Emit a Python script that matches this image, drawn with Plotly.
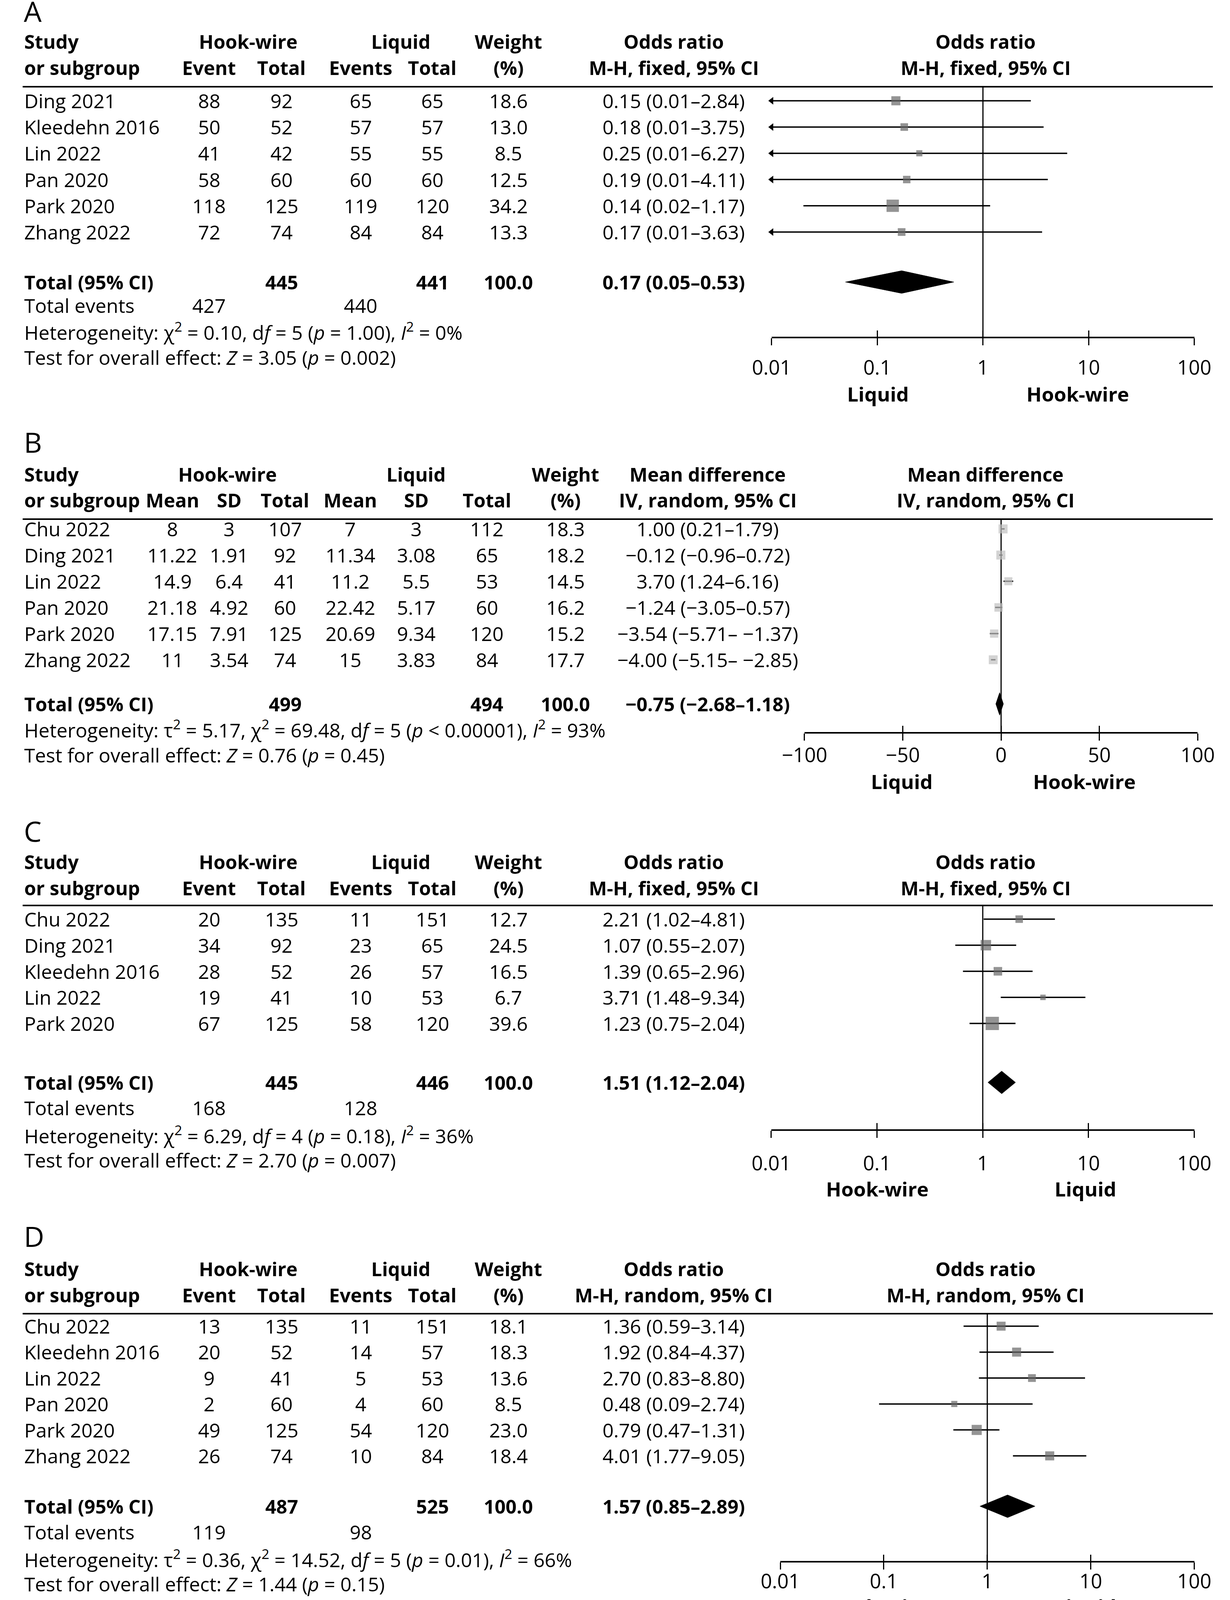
import plotly.graph_objects as go

W, H = 3148, 6913
FONT = "Open Sans"
FS = 50        # regular text
FSB = 49       # bold text
LABEL_FS = 72

# ============================ DATA ============================
# ---- Panel A (odds ratio, M-H fixed) ----
A_study = ["Ding 2021", "Kleedehn 2016", "Lin 2022", "Pan 2020", "Park 2020", "Zhang 2022"]
A_hw_event = [88, 50, 41, 58, 118, 72]
A_hw_total = [92, 52, 42, 60, 125, 74]
A_lq_event = [65, 57, 55, 60, 119, 84]
A_lq_total = [65, 57, 55, 60, 120, 84]
A_weight = [18.6, 13.0, 8.5, 12.5, 34.2, 13.3]
A_est = [0.15, 0.18, 0.25, 0.19, 0.14, 0.17]
A_lo = [0.01, 0.01, 0.01, 0.01, 0.02, 0.01]
A_hi = [2.84, 3.75, 6.27, 4.11, 1.17, 3.63]
A_ci_text = ["0.15 (0.01–2.84)", "0.18 (0.01–3.75)", "0.25 (0.01–6.27)",
             "0.19 (0.01–4.11)", "0.14 (0.02–1.17)", "0.17 (0.01–3.63)"]
A_totals = [445, 441]
A_pooled = [0.17, 0.05, 0.53]
A_pooled_text = "0.17 (0.05–0.53)"
A_total_events = [427, 440]
A_het = "Heterogeneity: χ<sup>2</sup> = 0.10, d<i>f</i> = 5 (<i>p</i> = 1.00), <i>I</i><sup>2</sup> = 0%"
A_test = "Test for overall effect: <i>Z</i> = 3.05 (<i>p</i> = 0.002)"
A_favours = ["Liquid", "Hook-wire"]

# ---- Panel B (mean difference, IV random) ----
B_study = ["Chu 2022", "Ding 2021", "Lin 2022", "Pan 2020", "Park 2020", "Zhang 2022"]
B_hw_mean = [8, 11.22, 14.9, 21.18, 17.15, 11]
B_hw_sd = [3, 1.91, 6.4, 4.92, 7.91, 3.54]
B_hw_total = [107, 92, 41, 60, 125, 74]
B_lq_mean = [7, 11.34, 11.2, 22.42, 20.69, 15]
B_lq_sd = [3, 3.08, 5.5, 5.17, 9.34, 3.83]
B_lq_total = [112, 65, 53, 60, 120, 84]
B_weight = [18.3, 18.2, 14.5, 16.2, 15.2, 17.7]
B_est = [1.00, -0.12, 3.70, -1.24, -3.54, -4.00]
B_lo = [0.21, -0.96, 1.24, -3.05, -5.71, -5.15]
B_hi = [1.79, 0.72, 6.16, 0.57, -1.37, -2.85]
B_ci_text = ["1.00 (0.21–1.79)", "−0.12 (−0.96–0.72)", "3.70 (1.24–6.16)",
             "−1.24 (−3.05–0.57)", "−3.54 (−5.71– −1.37)", "−4.00 (−5.15– −2.85)"]
B_totals = [499, 494]
B_pooled = [-0.75, -2.68, 1.18]
B_pooled_text = "−0.75 (−2.68–1.18)"
B_het = ("Heterogeneity: τ<sup>2</sup> = 5.17, χ<sup>2</sup> = 69.48, d<i>f</i> = 5 "
         "(<i>p</i> &lt; 0.00001), <i>I</i><sup>2</sup> = 93%")
B_test = "Test for overall effect: <i>Z</i> = 0.76 (<i>p</i> = 0.45)"
B_favours = ["Liquid", "Hook-wire"]

# ---- Panel C (odds ratio, M-H fixed) ----
C_study = ["Chu 2022", "Ding 2021", "Kleedehn 2016", "Lin 2022", "Park 2020"]
C_hw_event = [20, 34, 28, 19, 67]
C_hw_total = [135, 92, 52, 41, 125]
C_lq_event = [11, 23, 26, 10, 58]
C_lq_total = [151, 65, 57, 53, 120]
C_weight = [12.7, 24.5, 16.5, 6.7, 39.6]
C_est = [2.21, 1.07, 1.39, 3.71, 1.23]
C_lo = [1.02, 0.55, 0.65, 1.48, 0.75]
C_hi = [4.81, 2.07, 2.96, 9.34, 2.04]
C_ci_text = ["2.21 (1.02–4.81)", "1.07 (0.55–2.07)", "1.39 (0.65–2.96)",
             "3.71 (1.48–9.34)", "1.23 (0.75–2.04)"]
C_totals = [445, 446]
C_pooled = [1.51, 1.12, 2.04]
C_pooled_text = "1.51 (1.12–2.04)"
C_total_events = [168, 128]
C_het = "Heterogeneity: χ<sup>2</sup> = 6.29, d<i>f</i> = 4 (<i>p</i> = 0.18), <i>I</i><sup>2</sup> = 36%"
C_test = "Test for overall effect: <i>Z</i> = 2.70 (<i>p</i> = 0.007)"
C_favours = ["Hook-wire", "Liquid"]

# ---- Panel D (odds ratio, M-H random) ----
D_study = ["Chu 2022", "Kleedehn 2016", "Lin 2022", "Pan 2020", "Park 2020", "Zhang 2022"]
D_hw_event = [13, 20, 9, 2, 49, 26]
D_hw_total = [135, 52, 41, 60, 125, 74]
D_lq_event = [11, 14, 5, 4, 54, 10]
D_lq_total = [151, 57, 53, 60, 120, 84]
D_weight = [18.1, 18.3, 13.6, 8.5, 23.0, 18.4]
D_est = [1.36, 1.92, 2.70, 0.48, 0.79, 4.01]
D_lo = [0.59, 0.84, 0.83, 0.09, 0.47, 1.77]
D_hi = [3.14, 4.37, 8.80, 2.74, 1.31, 9.05]
D_ci_text = ["1.36 (0.59–3.14)", "1.92 (0.84–4.37)", "2.70 (0.83–8.80)",
             "0.48 (0.09–2.74)", "0.79 (0.47–1.31)", "4.01 (1.77–9.05)"]
D_totals = [487, 525]
D_pooled = [1.57, 0.85, 2.89]
D_pooled_text = "1.57 (0.85–2.89)"
D_total_events = [119, 98]
D_het = ("Heterogeneity: τ<sup>2</sup> = 0.36, χ<sup>2</sup> = 14.52, d<i>f</i> = 5 "
         "(<i>p</i> = 0.01), <i>I</i><sup>2</sup> = 66%")
D_test = "Test for overall effect: <i>Z</i> = 1.44 (<i>p</i> = 0.15)"
D_favours = ["Hook-wire", "Liquid"]

# ---- Panel E (odds ratio, M-H fixed) ----
E_study = ["Chu 2022", "Kleedehn 2016", "Lin 2022", "Pan 2020", "Park 2020", "Zhang 2022"]
E_hw_event = [7, 6, 12, 17, 27, 18]
E_hw_total = [135, 52, 41, 60, 125, 74]
E_lq_event = [0, 2, 7, 3, 7, 11]
E_lq_total = [151, 57, 53, 60, 120, 84]
E_weight = [2.0, 7.7, 19.6, 9.8, 25.5, 35.4]
E_est = [17.68, 3.59, 2.72, 7.51, 4.45, 2.13]
E_lo = [1.00, 0.69, 0.96, 2.07, 1.86, 0.93]
E_hi = [312.64, 18.63, 7.71, 27.28, 10.66, 4.88]
E_ci_text = ["17.68 (1.00–312.64)", "3.59 (0.69–18.63)", "2.72 (0.96–7.71)",
             "7.51 (2.07–27.28)", "4.45 (1.86–10.66)", "2.13 90.93–4.88)"]
E_totals = [487, 525]
E_pooled = [3.79, 2.43, 5.92]
E_pooled_text = "3.79 (2.43–5.92)"
E_total_events = [87, 30]
E_het = "Heterogeneity: χ<sup>2</sup> = 4.56, d<i>f</i> = 5 (<i>p</i> = 0.47), <i>I</i><sup>2</sup> = 0%"
E_test = "Test for overall effect: <i>Z</i> = 5.86 (<i>p</i> &lt; 0.00001)"
E_favours = ["Hook-wire", "Liquid"]

# ---- Panel F (mean difference, IV fixed) ----
F_study = ["Chu 2022", "Lin 2022", "Park 2020"]
F_hw_mean = [114, 79.9, 101.97]
F_hw_sd = [92, 40.1, 27.11]
F_hw_total = [104, 41, 125]
F_lq_mean = [95, 84.1, 102.75]
F_lq_sd = [61.5, 42.2, 52.11]
F_lq_total = [112, 53, 120]
F_weight = [15.1, 23.9, 61.0]
F_est = [19.00, -4.20, -0.78]
F_lo = [-2.03, -20.93, -11.24]
F_hi = [40.03, 12.53, 9.68]
F_ci_text = ["19.00 (−2.03–40.03)", "−4.20 (−20.93–12.53)", "−0.78 (−11.24–9.68)"]
F_totals = [270, 285]
F_pooled = [1.39, -6.78, 9.56]
F_pooled_text = "1.39 (−6.78–9.56)"
F_het = "Heterogeneity: χ<sup>2</sup> = 3.29, d<i>f</i> = 2 (<i>p</i> = 0.19), <i>I</i><sup>2</sup> = 39%"
F_test = "Test for overall effect: <i>Z</i> = 0.33 (<i>p</i> = 0.74)"
F_favours = ["Hook-wire", "Liquid"]

# ---- Panel G (mean difference, IV fixed) ----
G_study = ["Chu 2022", "Lin 2022"]
G_hw_mean = [6, 7.9]
G_hw_sd = [3, 3.6]
G_hw_total = [107, 41]
G_lq_mean = [5, 7.8]
G_lq_sd = [2, 2]
G_lq_total = [112, 53]
G_weight = [76.6, 23.4]
G_est = [1.00, 0.10]
G_lo = [0.32, -1.13]
G_hi = [1.68, 1.33]
G_ci_text = ["1.00 (0.32–1.68)", "0.10 (−1.13–1.33)"]
G_totals = [148, 165]
G_pooled = [0.79, 0.20, 1.38]
G_pooled_text = "0.79 (0.20–1.38)"
G_het = "Heterogeneity: χ<sup>2</sup> = 1.58, d<i>f</i> = 1 (<i>p</i> = 0.21), <i>I</i><sup>2</sup> = 37%"
G_test = "Test for overall effect: <i>Z</i> = 2.61 (<i>p</i> = 0.009)"
G_favours = ["Hook-wire", "Liquid"]

# Axis tick labels
OR_tickvals = [0.01, 0.1, 1, 10, 100]
OR_ticktext = ["0.01", "0.1", "1", "10", "100"]
MD_tickvals = [-100, -50, 0, 50, 100]
MD_ticktext = ["−100", "−50", "0", "50", "100"]

# ============================ LAYOUT SPECS (pixels) ============================
OR_COLS = dict(cols=[493, 685, 894, 1084, 1285], text=1722, group=[596, 1000], plot_hdr=2547)
MD_COLS = dict(cols=[396, 546, 694, 867, 1041, 1228, 1436], text=1812, group=[542, 1041], plot_hdr=2547)

PANELS = [
    dict(label="A", kind="or", measure="Odds ratio", method="M-H, fixed, 95% CI",
         study=A_study, cells=[A_hw_event, A_hw_total, A_lq_event, A_lq_total], weight=A_weight,
         est=A_est, lo=A_lo, hi=A_hi, ci_text=A_ci_text, totals=A_totals, pooled=A_pooled,
         pooled_text=A_pooled_text, total_events=A_total_events, het=A_het, test=A_test, favours=A_favours,
         top=0, bottom=1060, lab=28, h1=106, h2=173, line=222, row0=258, step=67.2, total=722,
         events=782, hety=848, testy=915, axis=864, gap=14, side=1008, x0=1981, x1=3099, side_x=(2262, 2791)),
    dict(label="B", kind="md", measure="Mean difference", method="IV, random, 95% CI",
         study=B_study, cells=[B_hw_mean, B_hw_sd, B_hw_total, B_lq_mean, B_lq_sd, B_lq_total], weight=B_weight,
         est=B_est, lo=B_lo, hi=B_hi, ci_text=B_ci_text, totals=B_totals, pooled=B_pooled,
         pooled_text=B_pooled_text, total_events=None, het=B_het, test=B_test, favours=B_favours,
         top=1060, bottom=2075, lab=1131, h1=1214, h2=1280, line=1329, row0=1354, step=67.0, total=1802,
         events=None, hety=1866, testy=1933, axis=1876, gap=-6, side=2000, x0=2068, x1=3108, side_x=(2325, 2808)),
    dict(label="C", kind="or", measure="Odds ratio", method="M-H, fixed, 95% CI",
         study=C_study, cells=[C_hw_event, C_hw_total, C_lq_event, C_lq_total], weight=C_weight,
         est=C_est, lo=C_lo, hi=C_hi, ci_text=C_ci_text, totals=C_totals, pooled=C_pooled,
         pooled_text=C_pooled_text, total_events=C_total_events, het=C_het, test=C_test, favours=C_favours,
         top=2075, bottom=3110, lab=2127, h1=2206, h2=2273, line=2318, row0=2353, step=66.75, total=2771,
         events=2836, hety=2905, testy=2970, axis=2893, gap=22, side=3043, x0=1980, x1=3099, side_x=(2261, 2811)),
    dict(label="D", kind="or", measure="Odds ratio", method="M-H, random, 95% CI",
         study=D_study, cells=[D_hw_event, D_hw_total, D_lq_event, D_lq_total], weight=D_weight,
         est=D_est, lo=D_lo, hi=D_hi, ci_text=D_ci_text, totals=D_totals, pooled=D_pooled,
         pooled_text=D_pooled_text, total_events=D_total_events, het=D_het, test=D_test, favours=D_favours,
         top=3110, bottom=4200, lab=3164, h1=3248, h2=3315, line=3363, row0=3395, step=66.4, total=3856,
         events=3922, hety=3990, testy=4055, axis=3998, gap=-13, side=4112, x0=2004, x1=3099, side_x=(2261, 2811)),
    dict(label="E", kind="or", measure="Odds ratio", method="M-H, fixed, 95% CI",
         study=E_study, cells=[E_hw_event, E_hw_total, E_lq_event, E_lq_total], weight=E_weight,
         est=E_est, lo=E_lo, hi=E_hi, ci_text=E_ci_text, totals=E_totals, pooled=E_pooled,
         pooled_text=E_pooled_text, total_events=E_total_events, het=E_het, test=E_test, favours=E_favours,
         top=4200, bottom=5320, lab=4252, h1=4342, h2=4407, line=4457, row0=4487, step=66.8, total=4955,
         events=5021, hety=5089, testy=5156, axis=5089, gap=0, side=5216, x0=1988, x1=3095, side_x=(2261, 2811)),
    dict(label="F", kind="md", measure="Mean difference", method="IV, fixed, 95% CI",
         study=F_study, cells=[F_hw_mean, F_hw_sd, F_hw_total, F_lq_mean, F_lq_sd, F_lq_total], weight=F_weight,
         est=F_est, lo=F_lo, hi=F_hi, ci_text=F_ci_text, totals=F_totals, pooled=F_pooled,
         pooled_text=F_pooled_text, total_events=None, het=F_het, test=F_test, favours=F_favours,
         top=5320, bottom=6200, lab=5403, h1=5486, h2=5551, line=5601, row0=5626, step=65.5, total=5874,
         events=None, hety=5939, testy=6006, axis=5935, gap=10, side=6074, x0=2105, x1=3107, side_x=(2325, 2833)),
    dict(label="G", kind="md", measure="Mean difference", method="IV, fixed, 95% CI",
         study=G_study, cells=[G_hw_mean, G_hw_sd, G_hw_total, G_lq_mean, G_lq_sd, G_lq_total], weight=G_weight,
         est=G_est, lo=G_lo, hi=G_hi, ci_text=G_ci_text, totals=G_totals, pooled=G_pooled,
         pooled_text=G_pooled_text, total_events=None, het=G_het, test=G_test, favours=G_favours,
         top=6200, bottom=6913, lab=6251, h1=6334, h2=6401, line=6449, row0=6474, step=65.0, total=6657,
         events=None, hety=6724, testy=6789, axis=6746, gap=7, side=6880, x0=2029, x1=3104, side_x=(2325, 2833)),
]

OR_SQ = "#666666"
MD_SQ = "#c0c0c0"


def fmt(v):
    return str(v).replace("-", "−")


fig = go.Figure()
annotations = []
shapes = []
layout_axes = {}


def add_text(s, x_px, y, yref, anchor="center", bold=False, size=None, pad=1):
    if size is None:
        size = FSB if bold else FS
    if bold:
        s = "<b>" + s + "</b>"
    annotations.append(dict(text=s, x=x_px / W, xref="paper", y=y, yref=yref,
                            xanchor=anchor, yanchor="middle", showarrow=False, borderpad=pad,
                            font=dict(family=FONT, size=size, color="black")))


for n, P in enumerate(PANELS, start=1):
    sfx = "" if n == 1 else str(n)
    xr, yr = "x" + sfx, "y" + sfx
    ov = str(n + len(PANELS))
    step, r0 = P["step"], P["row0"]

    def u(py, r0=r0, step=step):
        return (py - r0) / step

    is_or = P["kind"] == "or"
    C = OR_COLS if is_or else MD_COLS
    cols = C["cols"]

    # ---------- axes ----------
    layout_axes["yaxis" + sfx] = dict(
        domain=[1 - P["bottom"] / H, 1 - P["top"] / H],
        range=[u(P["bottom"]), u(P["top"])], anchor=xr,
        showticklabels=False, showgrid=False, zeroline=False, showline=False, ticks="")
    xcommon = dict(domain=[P["x0"] / W, P["x1"] / W], anchor="free", position=1 - P["axis"] / H,
                   type="log" if is_or else "linear",
                   range=[-2, 2] if is_or else [-100, 100],
                   tickvals=OR_tickvals if is_or else MD_tickvals,
                   showgrid=False, zeroline=False)
    layout_axes["xaxis" + sfx] = dict(
        **xcommon, ticktext=OR_ticktext if is_or else MD_ticktext,
        ticks="outside", ticklen=18, tickwidth=3, tickcolor="black",
        showline=True, linewidth=4, linecolor="black",
        tickfont=dict(family=FONT, size=51, color="black"), ticklabelstandoff=P["gap"])
    layout_axes["xaxis" + ov] = dict(
        **xcommon, overlaying=xr, ticks="inside", ticklen=18, tickwidth=3, tickcolor="black",
        showticklabels=False, showline=False)
    fig.add_trace(go.Scatter(x=[1], y=[0], xaxis="x" + ov, yaxis=yr, mode="markers",
                             marker=dict(opacity=0), showlegend=False, hoverinfo="skip"))

    # ---------- table text ----------
    add_text(P["label"], 2, u(P["lab"]), yr, anchor="left", size=LABEL_FS, pad=0)
    add_text("Study", 2, u(P["h1"]), yr, anchor="left", bold=True)
    add_text("or subgroup", 2, u(P["h2"]), yr, anchor="left", bold=True)
    add_text("Hook-wire", C["group"][0], u(P["h1"]), yr, bold=True)
    add_text("Liquid", C["group"][1], u(P["h1"]), yr, bold=True)
    add_text("Weight", cols[-1], u(P["h1"]), yr, bold=True)
    add_text("(%)", cols[-1], u(P["h2"]), yr, bold=True)
    add_text(P["measure"], C["text"], u(P["h1"]), yr, bold=True)
    add_text(P["method"], C["text"], u(P["h2"]), yr, bold=True)
    add_text(P["measure"], C["plot_hdr"], u(P["h1"]), yr, bold=True)
    add_text(P["method"], C["plot_hdr"], u(P["h2"]), yr, bold=True)
    subs = ["Event", "Total", "Events", "Total"] if is_or else ["Mean", "SD", "Total", "Mean", "SD", "Total"]
    for s, cx in zip(subs, cols[:-1]):
        add_text(s, cx, u(P["h2"]), yr, bold=True)

    shapes.append(dict(type="line", xref="paper", x0=0, x1=1, yref=yr,
                       y0=u(P["line"]), y1=u(P["line"]), line=dict(color="black", width=4)))

    for i, name in enumerate(P["study"]):
        add_text(name, 2, i, yr, anchor="left")
        for col_vals, cx in zip(P["cells"], cols[:-1]):
            add_text(fmt(col_vals[i]), cx, i, yr)
        add_text(f"{P['weight'][i]:.1f}", cols[-1], i, yr)
        add_text(P["ci_text"][i], C["text"], i, yr)

    ty = u(P["total"])
    add_text("Total (95% CI)", 2, ty, yr, anchor="left", bold=True)
    tcols = (cols[1], cols[3]) if is_or else (cols[2], cols[5])
    add_text(str(P["totals"][0]), tcols[0], ty, yr, bold=True)
    add_text(str(P["totals"][1]), tcols[1], ty, yr, bold=True)
    add_text("100.0", cols[-1], ty, yr, bold=True)
    add_text(P["pooled_text"], C["text"], ty, yr, bold=True)
    if P["total_events"] is not None:
        ey = u(P["events"])
        add_text("Total events", 2, ey, yr, anchor="left")
        add_text(str(P["total_events"][0]), cols[0], ey, yr)
        add_text(str(P["total_events"][1]), cols[2], ey, yr)
    add_text(P["het"], 2, u(P["hety"]), yr, anchor="left")
    add_text(P["test"], 2, u(P["testy"]), yr, anchor="left")
    add_text(P["favours"][0], P["side_x"][0], u(P["side"]), yr, bold=True, size=51)
    add_text(P["favours"][1], P["side_x"][1], u(P["side"]), yr, bold=True, size=51)

    # ---------- forest plot ----------
    xmin, xmax = (0.01, 100) if is_or else (-100, 100)
    null = 1 if is_or else 0
    fig.add_trace(go.Scatter(x=[null, null], y=[u(P["line"]), u(P["axis"])], xaxis=xr, yaxis=yr,
                             mode="lines", line=dict(color="black", width=3),
                             showlegend=False, hoverinfo="skip", cliponaxis=False))
    cx, cy, ax_l, ay_l, ax_r, ay_r = [], [], [], [], [], []
    for i in range(len(P["est"])):
        lo_c = max(P["lo"][i], xmin)
        hi_c = min(P["hi"][i], xmax)
        cx += [lo_c, hi_c, None]
        cy += [i, i, None]
        if P["lo"][i] <= xmin:
            ax_l.append(xmin); ay_l.append(i)
        if P["hi"][i] > xmax:
            ax_r.append(xmax); ay_r.append(i)
    fig.add_trace(go.Scatter(x=cx, y=cy, xaxis=xr, yaxis=yr, mode="lines",
                             line=dict(color="black", width=3.5), showlegend=False, hoverinfo="skip"))
    sizes = [max(12, 5.4 * w ** 0.5) for w in P["weight"]]
    fig.add_trace(go.Scatter(x=P["est"], y=list(range(len(P["est"]))), xaxis=xr, yaxis=yr,
                             mode="markers",
                             marker=dict(symbol="square", size=sizes,
                                         color=OR_SQ if is_or else MD_SQ, line=dict(width=0)),
                             showlegend=False, hoverinfo="skip"))
    if ax_l:
        fig.add_trace(go.Scatter(x=ax_l, y=ay_l, xaxis=xr, yaxis=yr, mode="markers",
                                 marker=dict(symbol="triangle-left", size=17, color="black"),
                                 cliponaxis=False, showlegend=False, hoverinfo="skip"))
    if ax_r:
        fig.add_trace(go.Scatter(x=ax_r, y=ay_r, xaxis=xr, yaxis=yr, mode="markers",
                                 marker=dict(symbol="triangle-right", size=17, color="black"),
                                 cliponaxis=False, showlegend=False, hoverinfo="skip"))
    est, lo, hi = P["pooled"]
    hh = 29 / step
    fig.add_trace(go.Scatter(x=[lo, est, hi, est, lo], y=[ty, ty - hh, ty, ty + hh, ty],
                             xaxis=xr, yaxis=yr, mode="lines", fill="toself", fillcolor="black",
                             line=dict(color="black", width=1), showlegend=False, hoverinfo="skip"))

fig.update_layout(
    width=W, height=H, margin=dict(l=0, r=0, t=0, b=0),
    paper_bgcolor="white", plot_bgcolor="white", showlegend=False,
    annotations=annotations, shapes=shapes, **layout_axes)

fig.write_html("out.html", config={"displayModeBar": False},
               post_script="document.body.style.margin='0';")
